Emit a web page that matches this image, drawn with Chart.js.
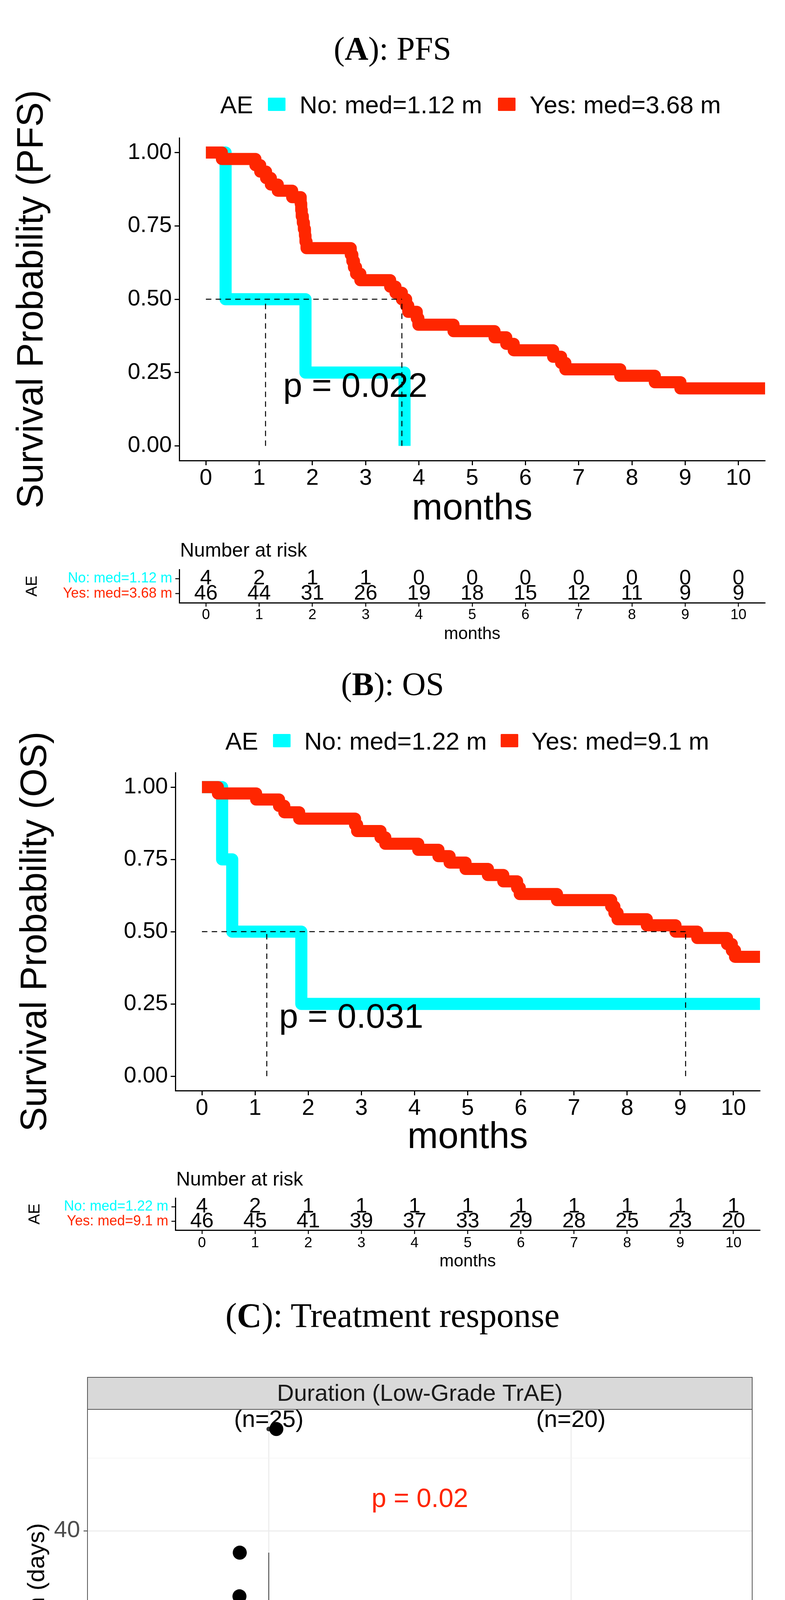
<!DOCTYPE html>
<html>
<head>
<meta charset="utf-8">
<title>AE survival and treatment response</title>
<script src="https://cdn.jsdelivr.net/npm/chart.js@4.4.1/dist/chart.umd.min.js"></script>
<style>
  html, body { margin: 0; padding: 0; background: #fff; }
  #page { position: relative; width: 2010px; height: 4815px; overflow: hidden;
          font-family: "Liberation Sans", Arial, sans-serif; color: #000; }
  #page canvas { position: absolute; left: 0; }
  .ttl { position: absolute; left: 0; width: 2010px; text-align: center; line-height: 1;
         font-family: "Liberation Serif", "Times New Roman", serif; }
  .lg { position: absolute; font-size: 63px; line-height: 1; white-space: nowrap; }
  .key { position: absolute; width: 45px; height: 34px; border-radius: 2px; }
</style>
</head>
<body>
<div id="page">
  <div class="ttl" style="top:83px; font-size:84px;">(<b>A</b>): PFS</div>
  <div class="ttl" style="top:1710px; font-size:84px;">(<b>B</b>): OS</div>
  <div class="ttl" style="top:3324px; font-size:88px;">(<b>C</b>): Treatment response</div>

  <canvas id="kmA" width="2010" height="1210" style="top:150px"></canvas>
  <canvas id="riskA" width="2010" height="280" style="top:1380px"></canvas>
  <canvas id="kmB" width="2010" height="1170" style="top:1800px"></canvas>
  <canvas id="riskB" width="2010" height="270" style="top:2990px"></canvas>
  <canvas id="resp" width="2010" height="1335" style="top:3480px"></canvas>
</div>

<script>
// ---------- shared ----------
const monthTicks = [0, 1, 2, 3, 4, 5, 6, 7, 8, 9, 10];
const survTicks = [0, 0.25, 0.5, 0.75, 1];
const groupNames = ['No', 'Yes'];
const groupColors = ['#00fdff', '#ff2600'];

// ---------- (A) PFS ----------
const pfsNoTime = [0, 0.37, 1.87, 3.73];
const pfsNoSurv = [1, 0.5, 0.25, 0];
const pfsYesTime = [0, 0.30, 0.93, 1.02, 1.13, 1.22, 1.35, 1.62, 1.78, 1.79, 1.80, 1.82, 1.84,
  1.86, 1.87, 1.89, 2.72, 2.75, 2.78, 2.82, 2.90, 3.46, 3.56, 3.68, 3.76, 3.80, 3.96, 3.99,
  4.65, 5.42, 5.64, 5.78, 6.52, 6.67, 6.75, 7.78, 8.43, 8.91, 10.5];
const pfsYesSurv = [1, 0.978, 0.957, 0.935, 0.913, 0.891, 0.870, 0.848, 0.826, 0.804, 0.783,
  0.761, 0.739, 0.717, 0.696, 0.674, 0.652, 0.630, 0.609, 0.587, 0.565, 0.543, 0.522, 0.500,
  0.478, 0.457, 0.435, 0.413, 0.391, 0.370, 0.348, 0.326, 0.304, 0.283, 0.261, 0.239, 0.217,
  0.196, 0.196];
const pfsMedians = [1.12, 3.68];
const pfsLabels = ['No: med=1.12 m', 'Yes: med=3.68 m'];
const pfsRiskNo = [4, 2, 1, 1, 0, 0, 0, 0, 0, 0, 0];
const pfsRiskYes = [46, 44, 31, 26, 19, 18, 15, 12, 11, 9, 9];
const pfsPval = 'p = 0.022';

// ---------- (B) OS ----------
const osNoTime = [0, 0.38, 0.57, 1.87, 10.5];
const osNoSurv = [1, 0.75, 0.5, 0.25, 0.25];
const osYesTime = [0, 0.30, 1.02, 1.45, 1.55, 1.83, 2.88, 2.92, 3.36, 3.45, 4.07, 4.45, 4.66,
  4.96, 5.38, 5.67, 5.93, 5.98, 6.68, 7.70, 7.76, 7.82, 8.37, 8.91, 9.32, 9.88, 9.97, 10.03, 10.5];
const osYesSurv = [1, 0.978, 0.957, 0.935, 0.913, 0.891, 0.870, 0.848, 0.826, 0.804, 0.783,
  0.761, 0.739, 0.717, 0.696, 0.674, 0.652, 0.630, 0.609, 0.587, 0.565, 0.543, 0.522, 0.500,
  0.478, 0.457, 0.435, 0.413, 0.413];
const osMedians = [1.22, 9.1];
const osLabels = ['No: med=1.22 m', 'Yes: med=9.1 m'];
const osRiskNo = [4, 2, 1, 1, 1, 1, 1, 1, 1, 1, 1];
const osRiskYes = [46, 45, 41, 39, 37, 33, 29, 28, 25, 23, 20];
const osPval = 'p = 0.031';

// ---------- (C) treatment response ----------
const responseCats = ['DC', 'PD'];
const durationDC = [54, 37, 31, 29, 28, 23, 19, 17, 6, 6, 3,
  0, 0, 0, 0, 0, 0, 0, 0, 0, 0, 0, 0, 0, 0];
const jitterDC = [0.025, -0.096, -0.097, -0.185, -0.114, 0.110, -0.182, 0.101, -0.138, -0.014, -0.163,
  -0.129, -0.082, -0.067, -0.046, 0.003, 0.017, 0.034, 0.051, 0.068, 0.086, 0.103, 0.122, 0.142, 0.168];
const durationPD = [21, 7, 6, 3, 3, 2, 1,
  0, 0, 0, 0, 0, 0, 0, 0, 0, 0, 0, 0, 0];
const jitterPD = [0.178, 0.123, -0.027, 0.031, 0.159, -0.018, -0.178,
  -0.189, -0.174, -0.152, -0.102, -0.090, -0.075, -0.025, -0.014, -0.001, 0.070, 0.111, 0.128, 0.167];
const durationTicks = [0, 10, 20, 30, 40, 50];
const respPval = 'p = 0.02';
const boxColors = ['#0433ff', '#ff2600'];

const FONT = '"Liberation Sans", Arial, sans-serif';
Chart.defaults.font.family = FONT;
Chart.defaults.color = '#000';

// ---------- legends (html) ----------
function buildLegend(centerY, pos, labels) {
  const page = document.getElementById('page');
  const add = (cls, left, top, text, bg) => {
    const el = document.createElement('div');
    el.className = cls;
    el.style.left = left + 'px';
    el.style.top = top + 'px';
    if (text) el.textContent = text;
    if (bg) el.style.background = bg;
    page.appendChild(el);
  };
  add('lg', pos.ae, centerY - 31.5, 'AE');
  labels.forEach((lab, i) => {
    add('key', pos.keys[i], centerY - 18, '', groupColors[i]);
    add('lg', pos.texts[i], centerY - 31.5, lab);
  });
}
buildLegend(268, { ae: 564, keys: [686, 1275], texts: [767, 1356] }, pfsLabels);
buildLegend(1897, { ae: 577, keys: [699, 1282], texts: [779, 1361] }, osLabels);

// ---------- KM curves ----------
function survPoints(times, surv) {
  return times.map((t, i) => ({ x: t, y: surv[i] }));
}

function medianGuide(medians) {
  const pts = [{ x: 0, y: 0.5 }, { x: Math.max(...medians), y: 0.5 }, { x: 0, y: null }];
  medians.forEach(m => pts.push({ x: m, y: 0 }, { x: m, y: 0.5 }, { x: m, y: null }));
  return pts;
}

function kmChart(id, o) {
  const curve = (times, surv, color, order) => ({
    type: 'line', data: survPoints(times, surv), borderColor: color, borderWidth: 31,
    stepped: true, pointRadius: 0, borderJoinStyle: 'round', borderCapStyle: 'butt',
    fill: false, clip: 0, order
  });
  return new Chart(document.getElementById(id), {
    type: 'line',
    data: {
      datasets: [
        { type: 'line', data: medianGuide(o.medians), borderColor: '#000', borderWidth: 2.5,
          borderDash: [14, 11], pointRadius: 0, order: 0 },
        curve(o.yesTime, o.yesSurv, groupColors[1], 1),
        curve(o.noTime, o.noSurv, groupColors[0], 2)
      ]
    },
    options: {
      responsive: false, devicePixelRatio: 1, animation: false, events: [],
      layout: { padding: { top: o.padTop, right: o.padRight, left: 0, bottom: 0 } },
      plugins: { legend: { display: false }, tooltip: { enabled: false } },
      scales: {
        x: {
          type: 'linear', min: -0.5, max: 10.5,
          afterBuildTicks: s => { s.ticks = monthTicks.map(v => ({ value: v })); },
          afterFit: s => { s.height = o.xHeight; },
          border: { display: true, color: '#000', width: 3 },
          grid: { display: true, drawOnChartArea: false, drawTicks: true, tickLength: 12, tickWidth: 3, tickColor: '#000' },
          ticks: { color: '#000', font: { size: 58, lineHeight: 1 }, padding: 5, maxRotation: 0, autoSkip: false },
          title: { display: true, text: 'months', color: '#000', font: { size: 94, lineHeight: 1 },
                   padding: { top: 0, bottom: o.xTitlePad } }
        },
        y: {
          type: 'linear', min: -0.05, max: 1.05,
          afterBuildTicks: s => { s.ticks = survTicks.map(v => ({ value: v })); },
          afterFit: s => { s.width = o.yWidth; },
          border: { display: true, color: '#000', width: 3 },
          grid: { display: true, drawOnChartArea: false, drawTicks: true, tickLength: 12, tickWidth: 3, tickColor: '#000' },
          ticks: { color: '#000', font: { size: 58, lineHeight: 1 }, padding: 7, callback: v => v.toFixed(2) },
          title: { display: true, text: o.yTitle, color: '#000', font: { size: 94, lineHeight: 1 },
                   padding: { top: o.yTitlePad, bottom: 0 } }
        }
      }
    },
    plugins: [{
      id: 'pval',
      afterDatasetsDraw(chart) {
        const { ctx, scales } = chart;
        ctx.save();
        ctx.font = '88px ' + FONT;
        ctx.fillStyle = '#000';
        ctx.textAlign = 'left';
        ctx.textBaseline = 'middle';
        ctx.fillText(o.pval, scales.x.getPixelForValue(1.45), scales.y.getPixelForValue(0.2));
        ctx.restore();
      }
    }]
  });
}

// ---------- risk tables ----------
function riskChart(id, o) {
  const rows = [{ n: o.riskNo, row: 2 }, { n: o.riskYes, row: 1 }];
  return new Chart(document.getElementById(id), {
    type: 'scatter',
    data: {
      datasets: rows.map(r => ({
        data: monthTicks.map((m, i) => ({ x: m, y: r.row, n: r.n[i] })),
        pointRadius: 0
      }))
    },
    options: {
      responsive: false, devicePixelRatio: 1, animation: false, events: [],
      layout: { padding: { top: o.padTop, right: o.padRight, left: 0, bottom: 0 } },
      plugins: { legend: { display: false }, tooltip: { enabled: false } },
      scales: {
        x: {
          type: 'linear', min: -0.5, max: 10.5,
          afterBuildTicks: s => { s.ticks = monthTicks.map(v => ({ value: v })); },
          afterFit: s => { s.height = o.xHeight; },
          border: { display: true, color: '#000', width: 3 },
          grid: { display: true, drawOnChartArea: false, drawTicks: true, tickLength: 10, tickWidth: 2.5, tickColor: '#000' },
          ticks: { color: '#000', font: { size: 37, lineHeight: 1 }, padding: o.xTickPad, maxRotation: 0, autoSkip: false },
          title: { display: true, text: 'months', color: '#000', font: { size: 44, lineHeight: 1 },
                   padding: { top: 0, bottom: o.xTitlePad } }
        },
        y: {
          type: 'linear', min: 0.4, max: 2.6,
          afterBuildTicks: s => { s.ticks = [{ value: 1 }, { value: 2 }]; },
          afterFit: s => { s.width = o.yWidth; },
          border: { display: true, color: '#000', width: 3 },
          grid: { display: true, drawOnChartArea: false, drawTicks: true, tickLength: 10, tickWidth: 2.5, tickColor: '#000' },
          ticks: {
            font: { size: 36, lineHeight: 1 }, padding: 8,
            callback: v => (v === 2 ? o.labels[0] : o.labels[1]),
            color: c => (c.tick && c.tick.value === 2 ? groupColors[0] : groupColors[1])
          },
          title: { display: true, text: 'AE', color: '#000', font: { size: 40, lineHeight: 1 },
                   padding: { top: o.yTitlePad, bottom: 0 } }
        }
      }
    },
    plugins: [{
      id: 'riskText',
      afterDatasetsDraw(chart) {
        const { ctx, chartArea } = chart;
        ctx.save();
        ctx.fillStyle = '#000';
        ctx.textAlign = 'center';
        ctx.textBaseline = 'middle';
        ctx.font = '54px ' + FONT;
        chart.data.datasets.forEach((ds, di) => {
          chart.getDatasetMeta(di).data.forEach((el, i) => {
            ctx.fillText(String(ds.data[i].n), el.x, el.y);
          });
        });
        ctx.font = '50px ' + FONT;
        ctx.textAlign = 'left';
        ctx.fillText('Number at risk', chartArea.left + 2, chartArea.top - o.headOffset);
        ctx.restore();
      }
    }]
  });
}

kmChart('kmA', {
  noTime: pfsNoTime, noSurv: pfsNoSurv, yesTime: pfsYesTime, yesSurv: pfsYesSurv,
  medians: pfsMedians, pval: pfsPval, yTitle: 'Survival Probability (PFS)',
  padTop: 203, padRight: 51, yWidth: 459, xHeight: 181, xTitlePad: 9, yTitlePad: 36
});
riskChart('riskA', {
  riskNo: pfsRiskNo, riskYes: pfsRiskYes, labels: pfsLabels,
  padTop: 78, padRight: 51, yWidth: 459, xHeight: 117, xTickPad: 3, xTitlePad: 14,
  yTitlePad: 63, headOffset: 47
});
kmChart('kmB', {
  noTime: osNoTime, noSurv: osNoSurv, yesTime: osYesTime, yesSurv: osYesSurv,
  medians: osMedians, pval: osPval, yTitle: 'Survival Probability (OS)',
  padTop: 178, padRight: 64, yWidth: 449, xHeight: 178, xTitlePad: 10, yTitlePad: 45
});
riskChart('riskB', {
  riskNo: osRiskNo, riskYes: osRiskYes, labels: osLabels,
  padTop: 77, padRight: 64, yWidth: 449, xHeight: 111, xTickPad: 5, xTitlePad: 8,
  yTitlePad: 70, headOffset: 46
});

// ---------- boxplot ----------
function quantile(sorted, p) {
  const h = (sorted.length - 1) * p;
  const lo = Math.floor(h);
  const hi = Math.min(lo + 1, sorted.length - 1);
  return sorted[lo] + (h - lo) * (sorted[hi] - sorted[lo]);
}

function boxStats(values) {
  const s = [...values].sort((a, b) => a - b);
  const q1 = quantile(s, 0.25), med = quantile(s, 0.5), q3 = quantile(s, 0.75);
  const iqr = q3 - q1;
  const inside = s.filter(v => v >= q1 - 1.5 * iqr && v <= q3 + 1.5 * iqr);
  return {
    q1, med, q3,
    lo: Math.min(...inside), hi: Math.max(...inside),
    out: s.filter(v => v < q1 - 1.5 * iqr || v > q3 + 1.5 * iqr),
    mean: values.reduce((a, b) => a + b, 0) / values.length,
    n: values.length
  };
}

const groups = [
  { x: 1, values: durationDC, jitter: jitterDC },
  { x: 2, values: durationPD, jitter: jitterPD }
];
const stats = groups.map(g => boxStats(g.values));
const BOX_W = 0.75;

const whiskerPts = [], medianPts = [], outlierPts = [], jitterPts = [], meanPts = [];
groups.forEach((g, i) => {
  const b = stats[i];
  whiskerPts.push({ x: g.x, y: b.q3 }, { x: g.x, y: b.hi }, { x: g.x, y: null },
                  { x: g.x, y: b.q1 }, { x: g.x, y: b.lo }, { x: g.x, y: null });
  medianPts.push({ x: g.x - BOX_W / 2, y: b.med }, { x: g.x + BOX_W / 2, y: b.med }, { x: g.x, y: null });
  b.out.forEach(v => outlierPts.push({ x: g.x, y: v }));
  g.values.forEach((v, j) => jitterPts.push({ x: g.x + g.jitter[j], y: v }));
  meanPts.push({ x: g.x, y: b.mean });
});

new Chart(document.getElementById('resp'), {
  type: 'bar',
  data: {
    datasets: [
      { type: 'bar', data: groups.map((g, i) => ({ x: g.x, y: [stats[i].q1, stats[i].q3] })),
        backgroundColor: boxColors, borderColor: '#333', borderWidth: 2, borderSkipped: false,
        barPercentage: BOX_W, categoryPercentage: 1, order: 6 },
      { type: 'line', data: whiskerPts, borderColor: '#333', borderWidth: 2, pointRadius: 0, order: 5 },
      { type: 'line', data: medianPts, borderColor: '#333', borderWidth: 4, pointRadius: 0, order: 4 },
      { type: 'scatter', data: outlierPts, pointRadius: 6, backgroundColor: '#333', borderWidth: 0, order: 3 },
      { type: 'scatter', data: jitterPts, pointRadius: 18, backgroundColor: '#000', borderWidth: 0, order: 2 },
      { type: 'scatter', data: meanPts, pointStyle: 'star', pointRadius: 72, borderColor: '#ff2600',
        backgroundColor: 'rgba(0,0,0,0)', borderWidth: 2, order: 1 }
    ]
  },
  options: {
    responsive: false, devicePixelRatio: 1, animation: false, events: [],
    layout: { padding: { top: 128, right: 84, left: 0, bottom: 0 } },
    plugins: { legend: { display: false }, tooltip: { enabled: false } },
    scales: {
      x: {
        type: 'linear', min: 0.4, max: 2.6, offset: false,
        afterBuildTicks: s => { s.ticks = groups.map(g => ({ value: g.x })); },
        afterFit: s => { s.height = 101; },
        border: { display: false },
        grid: { display: true, offset: false, color: '#ebebeb', lineWidth: 2.5, drawTicks: true, tickLength: 10,
                tickWidth: 2, tickColor: '#333' },
        ticks: { color: '#4d4d4d', font: { size: 60, lineHeight: 1 }, padding: 2,
                 callback: v => responseCats[v - 1] },
      },
      y: {
        type: 'linear', min: -2.7, max: 56.7,
        afterBuildTicks: s => { s.ticks = durationTicks.map(v => ({ value: v })); },
        afterFit: s => { s.width = 224; },
        border: { display: false },
        grid: {
          display: true, drawTicks: true, tickLength: 10, tickWidth: 2,
          color: c => (c.tick && c.tick.value % 20 === 0 ? '#ebebeb' : '#f3f3f3'),
          lineWidth: c => (c.tick && c.tick.value % 20 === 0 ? 2.5 : 1.5),
          tickColor: c => (c.tick && c.tick.value % 20 === 0 ? '#333' : 'rgba(0,0,0,0)')
        },
        ticks: { color: '#4d4d4d', font: { size: 60, lineHeight: 1 }, padding: 9,
                 callback: v => (v % 20 === 0 ? String(v) : '') },
        title: { display: true, text: 'AE Duration (days)', color: '#000', font: { size: 62, lineHeight: 1 },
                 padding: { top: 65, bottom: 0 } }
      }
    }
  },
  plugins: [{
    id: 'facet',
    beforeDraw(chart) {
      const { ctx, chartArea: a } = chart;
      const h = 82, top = a.top - h;
      ctx.save();
      ctx.fillStyle = '#d9d9d9';
      ctx.fillRect(a.left, top, a.right - a.left, h);
      ctx.strokeStyle = '#555';
      ctx.lineWidth = 2;
      ctx.strokeRect(a.left, top, a.right - a.left, h);
      ctx.fillStyle = '#1a1a1a';
      ctx.font = '60px ' + FONT;
      ctx.textAlign = 'center';
      ctx.textBaseline = 'middle';
      ctx.fillText('Duration (Low-Grade TrAE)', (a.left + a.right) / 2, top + h / 2 + 2);
      ctx.restore();
    },
    beforeDatasetsDraw(chart) {
      const { ctx, scales } = chart;
      ctx.save();
      ctx.textAlign = 'center';
      ctx.textBaseline = 'middle';
      ctx.fillStyle = '#000';
      ctx.font = '61px ' + FONT;
      groups.forEach((g, i) => {
        ctx.fillText('(n=' + stats[i].n + ')', scales.x.getPixelForValue(g.x), scales.y.getPixelForValue(55.2));
      });
      ctx.fillStyle = '#ff2600';
      ctx.font = '68px ' + FONT;
      ctx.fillText(respPval, scales.x.getPixelForValue(1.5), scales.y.getPixelForValue(44.3));
      ctx.restore();
    },
    afterDatasetsDraw(chart) {
      const { ctx, chartArea: a } = chart;
      ctx.save();
      ctx.strokeStyle = '#555';
      ctx.lineWidth = 2;
      ctx.strokeRect(a.left, a.top, a.right - a.left, a.bottom - a.top);
      ctx.restore();
    }
  }]
});
</script>
</body>
</html>
